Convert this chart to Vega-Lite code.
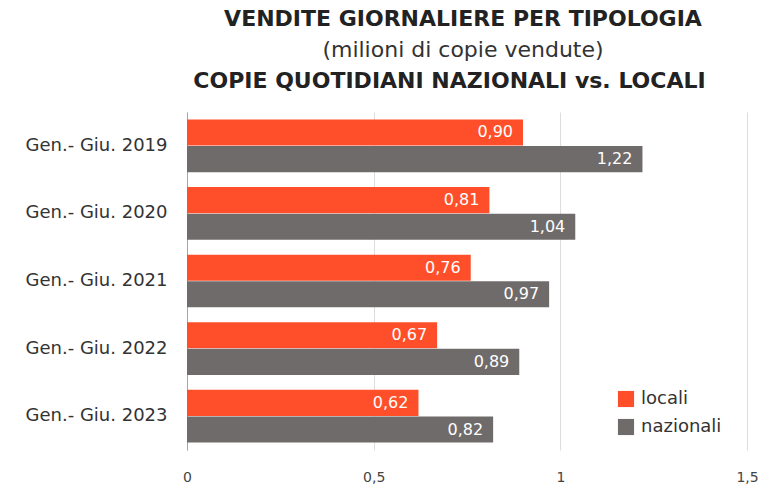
{
  "$schema": "https://vega.github.io/schema/vega-lite/v6.json",
  "width": 560,
  "height": 338,
  "autosize": {"type": "none"},
  "padding": {"left": 187, "top": 112, "right": 35, "bottom": 39},
  "background": "white",
  "config": {
    "locale": {"number": {"decimal": ",", "thousands": ".", "grouping": [3], "currency": ["€", ""]}},
    "view": {"stroke": null}
  },
  "title": {
    "text": "VENDITE GIORNALIERE PER TIPOLOGIA",
    "subtitle": "(milioni di copie vendute)",
    "anchor": "middle",
    "dx": -4,
    "font": "DejaVu Sans",
    "fontSize": 22,
    "fontWeight": "bold",
    "color": "#222222",
    "subtitleFont": "DejaVu Sans",
    "subtitleFontSize": 22,
    "subtitleColor": "#333333",
    "subtitlePadding": 9,
    "offset": 7
  },
  "data": {
    "values": [
      {"periodo": "Gen.- Giu. 2019", "tipo": "locali", "valore": 0.90},
      {"periodo": "Gen.- Giu. 2019", "tipo": "nazionali", "valore": 1.22},
      {"periodo": "Gen.- Giu. 2020", "tipo": "locali", "valore": 0.81},
      {"periodo": "Gen.- Giu. 2020", "tipo": "nazionali", "valore": 1.04},
      {"periodo": "Gen.- Giu. 2021", "tipo": "locali", "valore": 0.76},
      {"periodo": "Gen.- Giu. 2021", "tipo": "nazionali", "valore": 0.97},
      {"periodo": "Gen.- Giu. 2022", "tipo": "locali", "valore": 0.67},
      {"periodo": "Gen.- Giu. 2022", "tipo": "nazionali", "valore": 0.89},
      {"periodo": "Gen.- Giu. 2023", "tipo": "locali", "valore": 0.62},
      {"periodo": "Gen.- Giu. 2023", "tipo": "nazionali", "valore": 0.82}
    ]
  },
  "encoding": {
    "y": {
      "field": "periodo",
      "type": "nominal",
      "sort": null,
      "scale": {"paddingInner": 0.22, "paddingOuter": 0.11},
      "axis": {
        "title": null,
        "ticks": false,
        "labelPadding": 20,
        "labelFont": "DejaVu Sans",
        "labelFontSize": 18,
        "labelColor": "#333333",
        "domainColor": "#A6A6A6",
        "grid": false
      }
    },
    "yOffset": {"field": "tipo", "type": "nominal", "sort": ["locali", "nazionali"], "scale": {"paddingInner": 0.02}}
  },
  "layer": [
    {
      "mark": {"type": "bar"},
      "encoding": {
        "x": {
          "field": "valore",
          "type": "quantitative",
          "scale": {"domain": [0, 1.5], "nice": false},
          "axis": {
            "title": null,
            "orient": "bottom",
            "values": [0, 0.5, 1, 1.5],
            "format": "~r",
            "domain": false,
            "ticks": false,
            "labelPadding": 20,
            "labelFont": "DejaVu Sans",
            "labelFontSize": 14,
            "labelColor": "#444444",
            "grid": true,
            "gridColor": "#DDDDDD",
            "labelFlush": false
          }
        },
        "color": {
          "field": "tipo",
          "type": "nominal",
          "scale": {"domain": ["locali", "nazionali"], "range": ["#FF4F2A", "#706B6B"]},
          "legend": {
            "title": null,
            "orient": "none",
            "legendX": 430,
            "legendY": 278,
            "symbolType": "square",
            "symbolSize": 260,
            "symbolStrokeWidth": 0,
            "labelFont": "DejaVu Sans",
            "labelFontSize": 18,
            "labelColor": "#333333",
            "rowPadding": 10,
            "padding": 0,
            "labelOffset": 6
          }
        }
      }
    },
    {
      "mark": {"type": "text", "align": "right", "baseline": "middle", "dx": -10, "font": "DejaVu Sans", "fontSize": 16, "color": "white"},
      "encoding": {
        "x": {
          "field": "valore",
          "type": "quantitative",
          "axis": {
            "orient": "top",
            "title": "COPIE QUOTIDIANI NAZIONALI vs. LOCALI",
            "labels": false,
            "ticks": false,
            "domain": false,
            "grid": false,
            "titleFont": "DejaVu Sans",
            "titleFontSize": 22,
            "titleFontWeight": "bold",
            "titleColor": "#222222",
            "titlePadding": 20,
            "titleX": 262,
            "titleAlign": "center"
          }
        },
        "text": {"field": "valore", "type": "quantitative", "format": ".2f"}
      }
    }
  ],
  "resolve": {"axis": {"x": "independent"}}
}
